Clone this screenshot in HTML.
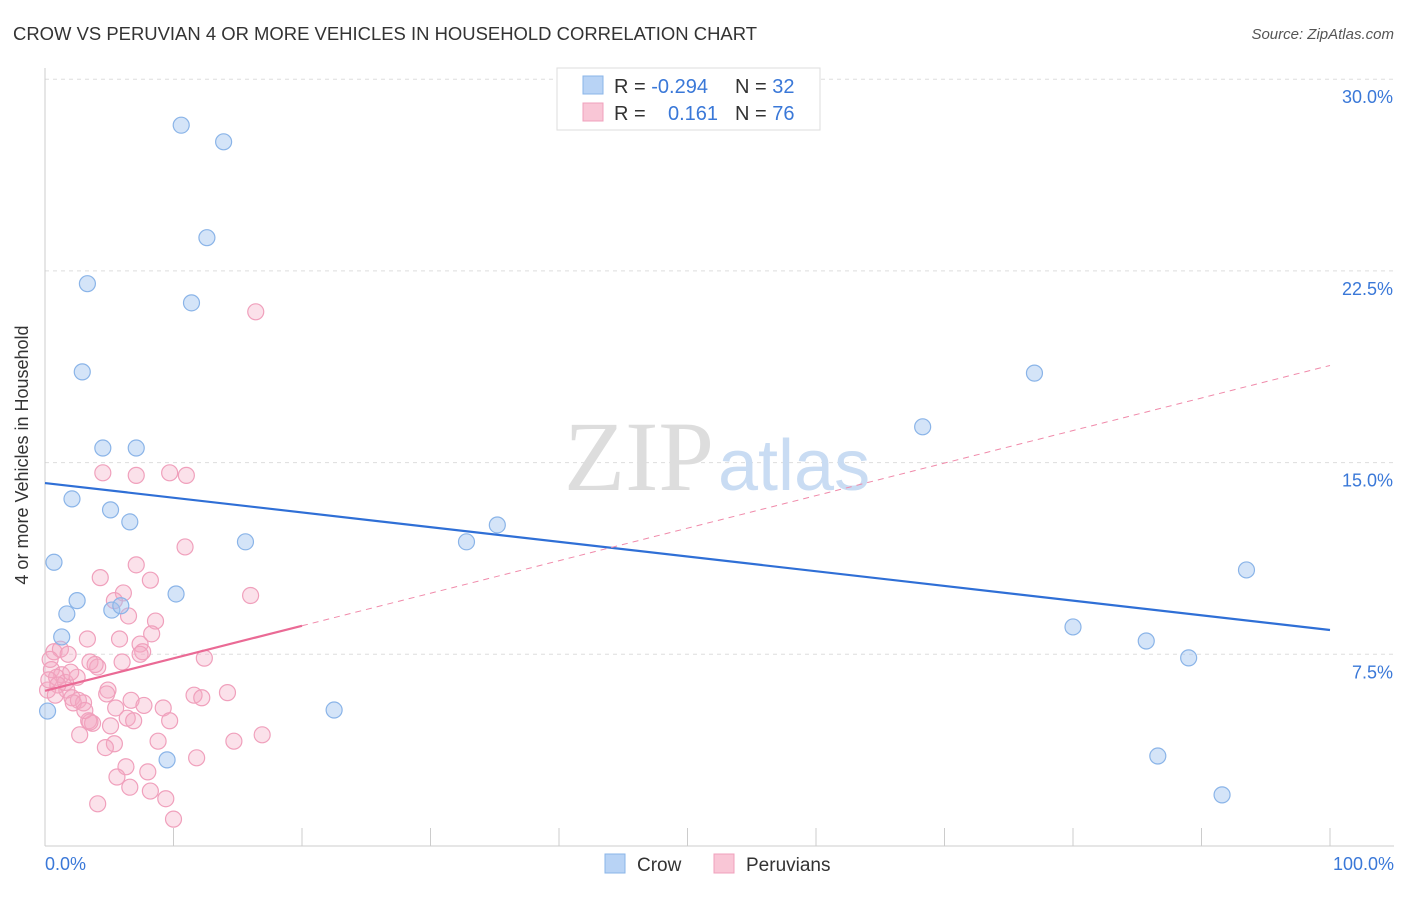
<!DOCTYPE html>
<html><head><meta charset="utf-8"><style>
body{margin:0;background:#fff;font-family:"Liberation Sans",sans-serif}
</style></head><body>
<svg width="1406" height="892" xmlns="http://www.w3.org/2000/svg" style="font-family:'Liberation Sans',sans-serif">
<text x="13" y="40" font-size="18" fill="#333" textLength="744" lengthAdjust="spacingAndGlyphs">CROW VS PERUVIAN 4 OR MORE VEHICLES IN HOUSEHOLD CORRELATION CHART</text>
<text x="1394" y="39" font-size="15" fill="#555" font-style="italic" text-anchor="end">Source: ZipAtlas.com</text>
<g id="grid"></g>
<text x="714" y="490" font-size="100" fill="#ddd" font-family="Liberation Serif" text-anchor="end">ZIP</text>
<text x="718" y="490" font-size="72" fill="#c9dcf3">atlas</text>
<text x="28" y="455" font-size="18" fill="#333" text-anchor="middle" transform="rotate(-90 28 455)">4 or more Vehicles in Household</text>
<g id="marks"></g>
<g>
<rect x="557" y="68" width="263" height="62" fill="#fff" stroke="#ddd"/>
<rect x="583" y="76" width="20" height="18" fill="#b8d3f5" stroke="#8ab4e8"/>
<rect x="583" y="103" width="20" height="18" fill="#f9c6d6" stroke="#f0a0bc"/>
<text x="614" y="93" font-size="20" fill="#333">R = <tspan fill="#3a78d8">-0.294</tspan></text>
<text x="735" y="93" font-size="20" fill="#333">N = <tspan fill="#3a78d8">32</tspan></text>
<text x="614" y="120" font-size="20" fill="#333">R = </text>
<text x="668" y="120" font-size="20" fill="#3a78d8">0.161</text>
<text x="735" y="120" font-size="20" fill="#333">N = <tspan fill="#3a78d8">76</tspan></text>
</g>
<g>
<rect x="605" y="854" width="20" height="19" fill="#b8d3f5" stroke="#8ab4e8"/>
<text x="637" y="871" font-size="19" fill="#333">Crow</text>
<rect x="714" y="854" width="20" height="19" fill="#f9c6d6" stroke="#f0a0bc"/>
<text x="746" y="871" font-size="19" fill="#333">Peruvians</text>
</g>
</svg>
<script>
const yTicks=[7.5,15,22.5,30];
const yTickLabels=["7.5%","15.0%","22.5%","30.0%"];
const xTickLabels=["0.0%","100.0%"];
const crowX=[10.6,13.9,12.6,3.3,11.4,2.9,4.5,7.1,2.1,5.1,6.6,0.7,15.6,2.5,1.7,5.2,5.9,10.2,1.3,0.2,22.5,9.5,32.8,35.2,68.3,77.0,80.0,85.7,89.0,86.6,93.5,91.6];
const crowY=[28.2,27.55,23.8,22.0,21.25,18.55,15.57,15.57,13.58,13.15,12.68,11.1,11.9,9.6,9.08,9.23,9.4,9.86,8.18,5.28,5.32,3.37,11.9,12.56,16.4,18.5,8.57,8.02,7.36,3.52,10.8,2.0];
const peruX=[16.4,4.5,7.1,9.7,11.0,10.9,7.1,4.3,8.2,6.1,16.0,5.4,6.5,8.6,8.3,3.3,5.8,7.4,7.6,7.4,0.7,1.2,1.8,0.4,3.5,4.1,3.9,12.4,0.5,1.3,0.9,1.6,2.5,0.2,1.7,4.9,4.8,2.1,2.6,3.0,2.2,6.7,11.6,12.2,14.2,5.5,7.7,9.2,9.7,3.4,3.7,3.5,6.4,6.9,5.1,2.7,16.9,14.7,8.8,5.4,4.7,11.8,6.3,5.6,8.0,6.6,8.2,9.4,4.1,10.0,0.3,1.0,2.0,3.1,6.0,0.8];
const peruY=[20.9,14.6,14.5,14.6,14.5,11.7,11.0,10.5,10.4,9.9,9.8,9.6,9.0,8.8,8.3,8.1,8.1,7.9,7.6,7.5,7.6,7.7,7.5,7.3,7.2,7.0,7.1,7.35,6.9,6.7,6.6,6.4,6.6,6.1,6.1,6.1,5.95,5.8,5.7,5.6,5.6,5.7,5.9,5.8,6.0,5.4,5.5,5.4,4.9,4.9,4.8,4.85,5.0,4.9,4.7,4.35,4.35,4.1,4.1,4.0,3.85,3.45,3.1,2.7,2.9,2.3,2.15,1.85,1.65,1.05,6.5,6.3,6.8,5.3,7.2,5.9];
const crowTrend=[14.2,8.45];
const peruTrend=[6.07,18.8];
const X=v=>45+v/100*1285, Y=v=>846-v/7.5*191.7;
const NS="http://www.w3.org/2000/svg";
function mk(t,a,p){const e=document.createElementNS(NS,t);for(const k in a)e.setAttribute(k,a[k]);p.appendChild(e);return e;}
const g=document.getElementById('grid'), m=document.getElementById('marks');
yTicks.forEach((t,i)=>{
 const l=mk('line',{x1:45,x2:1394,y1:Y(t),y2:Y(t),stroke:'#ddd','stroke-dasharray':'4,4'},g);
 
 
 const tx=mk('text',{x:1393,y:Y(t)+24,'font-size':18,fill:'#3a78d8','text-anchor':'end'},g);
 tx.textContent=yTickLabels[i];
 
 
});
const ax=mk('line',{x1:45,x2:1394,y1:846,y2:846,stroke:'#ccc'},g);


const ay=mk('line',{x1:45,x2:45,y1:68,y2:846,stroke:'#ccc'},g);


for(let i=0;i<=10;i++){const t=mk('line',{x1:X(i*10),x2:X(i*10),y1:828,y2:846,stroke:'#ccc'},g);
 
 }
[[0,'start',45],[100,'end',1394]].forEach((d,i)=>{const t=mk('text',{x:d[2],y:870,'font-size':18,fill:'#3a78d8','text-anchor':d[1]},g);t.textContent=xTickLabels[i];
 
 });
peruX.forEach((x,i)=>{const c=mk('circle',{cx:X(x),cy:Y(peruY[i]),r:8,fill:'rgba(244,170,196,0.35)',stroke:'#f0a0bc','stroke-width':1.2},m);
 
 });
crowX.forEach((x,i)=>{const c=mk('circle',{cx:X(x),cy:Y(crowY[i]),r:8,fill:'rgba(160,196,240,0.45)',stroke:'#8ab4e8','stroke-width':1.2},m);
 
 });
const ct=mk('line',{x1:X(0),y1:Y(crowTrend[0]),x2:X(100),y2:Y(crowTrend[1]),stroke:'#2f6fd6','stroke-width':2.2},m);


const pAt=v=>peruTrend[0]+(peruTrend[1]-peruTrend[0])*v/100;
const pd=mk('line',{x1:X(20),y1:Y(pAt(20)),x2:X(100),y2:Y(pAt(100)),stroke:'#f08aaa','stroke-width':1,'stroke-dasharray':'6,5'},m);


const ps=mk('line',{x1:X(0),y1:Y(pAt(0)),x2:X(20),y2:Y(pAt(20)),stroke:'#ea6a95','stroke-width':2.2},m);


</script>
</body></html>
